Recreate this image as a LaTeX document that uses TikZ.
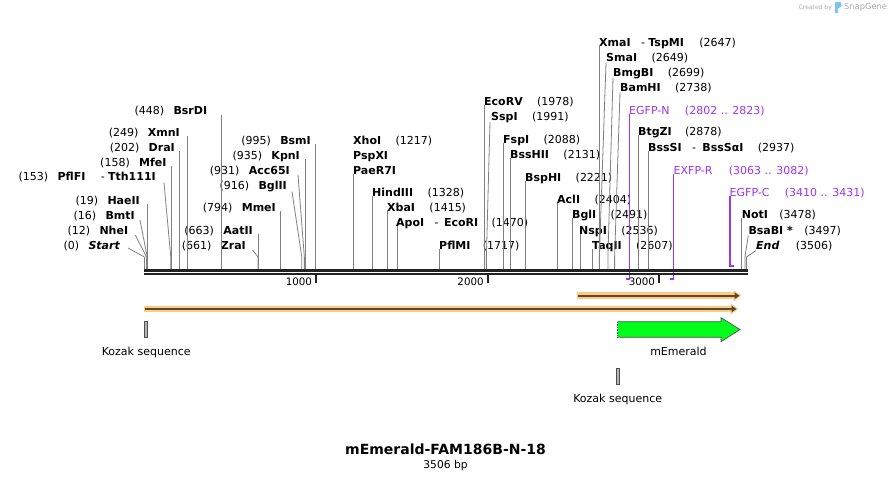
\documentclass[tikz,border=0pt]{standalone}
\usepackage{fontspec}
\setmainfont{DejaVu Sans}
\usetikzlibrary{arrows.meta,positioning}
\definecolor{cutgray}{RGB}{128,128,128}
\definecolor{primer}{RGB}{158,52,240}
\definecolor{barblack}{RGB}{34,34,34}
\definecolor{orfhalo}{RGB}{255,202,130}
\definecolor{orfline}{RGB}{88,72,52}
\definecolor{emerald}{RGB}{0,255,26}
\definecolor{featedge}{RGB}{80,80,80}
\definecolor{kozak}{RGB}{180,180,180}
\definecolor{logogray}{RGB}{170,170,170}
\definecolor{logoblue}{RGB}{125,196,240}

\begin{document}
\begin{tikzpicture}[x=1pt,y=-1pt,
  enz/.style={inner sep=0pt,font=\fontsize{11}{13}\selectfont\bfseries},
  num/.style={inner sep=0pt,font=\fontsize{11}{13}\selectfont},
  prm/.style={num,text=primer},
  ticklbl/.style={inner sep=0pt,font=\fontsize{10.3}{12}\selectfont},
  cut/.style={draw=cutgray,line width=0.8pt},
  pcut/.style={draw=primer,line width=1.3pt},
  seq/.style={draw=barblack,line width=2.4pt},
  tick/.style={draw=barblack,line width=1.8pt},
  orfbg/.style={draw=orfhalo,line width=6.5pt,shorten >=-2pt,shorten <=-1pt,
    -{Triangle[length=8pt,width=11pt]}},
  orf/.style={draw=orfline,line width=2.2pt,-{Triangle[length=5pt,width=6.5pt]}},
  kbox/.style={draw=featedge,fill=kozak,line width=0.6pt,inner sep=0pt,
    minimum width=3pt,minimum height=15.5pt},
  title/.style={inner sep=0pt,font=\fontsize{14}{16}\selectfont\bfseries}
]
\fill[white] (0,0) rectangle (892,479);

\coordinate (s0) at (144.5,269.5);
\coordinate (s12) at (146.56,269.5);
\coordinate (s16) at (147.25,269.5);
\coordinate (s19) at (147.76,269.5);
\coordinate (s153) at (170.77,269.5);
\coordinate (s158) at (171.63,269.5);
\coordinate (s202) at (179.18,269.5);
\coordinate (s249) at (187.25,269.5);
\coordinate (s448) at (221.42,269.5);
\coordinate (s661) at (257.99,269.5);
\coordinate (s663) at (258.34,269.5);
\coordinate (s794) at (280.83,269.5);
\coordinate (s916) at (301.78,269.5);
\coordinate (s931) at (304.35,269.5);
\coordinate (s935) at (305.04,269.5);
\coordinate (s995) at (315.34,269.5);
\coordinate (s1217) at (353.46,269.5);
\coordinate (s1328) at (372.52,269.5);
\coordinate (s1415) at (387.46,269.5);
\coordinate (s1470) at (396.90,269.5);
\coordinate (s1717) at (439.31,269.5);
\coordinate (s1978) at (484.12,269.5);
\coordinate (s1991) at (486.36,269.5);
\coordinate (s2088) at (503.01,269.5);
\coordinate (s2131) at (510.39,269.5);
\coordinate (s2221) at (525.85,269.5);
\coordinate (s2404) at (557.27,269.5);
\coordinate (s2491) at (572.20,269.5);
\coordinate (s2536) at (579.93,269.5);
\coordinate (s2607) at (592.12,269.5);
\coordinate (s2647) at (598.99,269.5);
\coordinate (s2649) at (599.33,269.5);
\coordinate (s2699) at (607.92,269.5);
\coordinate (s2738) at (614.61,269.5);
\coordinate (s2878) at (638.66,269.5);
\coordinate (s2937) at (648.79,269.5);
\coordinate (s3478) at (741.67,269.5);
\coordinate (s3497) at (744.94,269.5);
\coordinate (s3506) at (746.48,269.5);

\node[enz,anchor=base east] (bsrdi) at (207.3,114.5) {BsrDI};
\node[num,left=9pt of bsrdi.base west,anchor=base east] {(448)};
\node[enz,anchor=base east] (xmni) at (180,136) {XmnI};
\node[num,left=9pt of xmni.base west,anchor=base east] {(249)};
\node[enz,anchor=base east] (drai) at (175,151) {DraI};
\node[num,left=9pt of drai.base west,anchor=base east] {(202)};
\node[enz,anchor=base east] (mfei) at (166.7,166) {MfeI};
\node[num,left=9pt of mfei.base west,anchor=base east] {(158)};
\node[enz,anchor=base east] (tth) at (156,180.5) {Tth111I};
\node[num,left=3pt of tth.base west,anchor=base east] (tthdash) {-};
\node[enz,left=15pt of tthdash.base west,anchor=base east] (pflfi) {PflFI};
\node[num,left=9pt of pflfi.base west,anchor=base east] {(153)};
\node[enz,anchor=base east] (haeii) at (140,204) {HaeII};
\node[num,left=9pt of haeii.base west,anchor=base east] {(19)};
\node[enz,anchor=base east] (bmti) at (135,219) {BmtI};
\node[num,left=9pt of bmti.base west,anchor=base east] {(16)};
\node[enz,anchor=base east] (nhei) at (128.3,234) {NheI};
\node[num,left=9pt of nhei.base west,anchor=base east] {(12)};
\node[enz,anchor=base east] (start) at (120,249) {\itshape Start};
\node[num,left=9pt of start.base west,anchor=base east] {(0)};

\node[enz,anchor=base east] (bsmi) at (311,144) {BsmI};
\node[num,left=9pt of bsmi.base west,anchor=base east] {(995)};
\node[enz,anchor=base east] (kpni) at (300,159) {KpnI};
\node[num,left=9pt of kpni.base west,anchor=base east] {(935)};
\node[enz,anchor=base east] (acc) at (290,174) {Acc65I};
\node[num,left=9pt of acc.base west,anchor=base east] {(931)};
\node[enz,anchor=base east] (bglii) at (287,189) {BglII};
\node[num,left=9pt of bglii.base west,anchor=base east] {(916)};
\node[enz,anchor=base east] (mmei) at (276,211) {MmeI};
\node[num,left=9pt of mmei.base west,anchor=base east] {(794)};
\node[enz,anchor=base east] (aatii) at (253,234) {AatII};
\node[num,left=9pt of aatii.base west,anchor=base east] {(663)};
\node[enz,anchor=base east] (zrai) at (246,249) {ZraI};
\node[num,left=9pt of zrai.base west,anchor=base east] {(661)};

\node[enz,anchor=base west] (xhoi) at (353,144) {XhoI};
\node[num,right=14pt of xhoi.base east,anchor=base west] {(1217)};
\node[enz,anchor=base west] (pspxi) at (353,159) {PspXI};
\node[enz,anchor=base west] (paer) at (353,174) {PaeR7I};
\node[enz,anchor=base west] (hind) at (372,196) {HindIII};
\node[num,right=14pt of hind.base east,anchor=base west] {(1328)};
\node[enz,anchor=base west] (xbai) at (387,211) {XbaI};
\node[num,right=14pt of xbai.base east,anchor=base west] {(1415)};
\node[enz,anchor=base west] (apoi) at (396,226) {ApoI};
\node[num,right=10pt of apoi.base east,anchor=base west] (apodash) {-};
\node[enz,right=5pt of apodash.base east,anchor=base west] (ecori) {EcoRI};
\node[num,right=13pt of ecori.base east,anchor=base west] {(1470)};
\node[enz,anchor=base west] (pflmi) at (439,249) {PflMI};
\node[num,right=12pt of pflmi.base east,anchor=base west] {(1717)};

\node[enz,anchor=base west] (ecorv) at (484,105) {EcoRV};
\node[num,right=14pt of ecorv.base east,anchor=base west] {(1978)};
\node[enz,anchor=base west] (sspi) at (491,120) {SspI};
\node[num,right=14pt of sspi.base east,anchor=base west] {(1991)};
\node[enz,anchor=base west] (fspi) at (503,143) {FspI};
\node[num,right=14pt of fspi.base east,anchor=base west] {(2088)};
\node[enz,anchor=base west] (bsshii) at (510,158) {BssHII};
\node[num,right=14pt of bsshii.base east,anchor=base west] {(2131)};
\node[enz,anchor=base west] (bsphi) at (525,181) {BspHI};
\node[num,right=14pt of bsphi.base east,anchor=base west] {(2221)};
\node[enz,anchor=base west] (acli) at (557,203) {AclI};
\node[num,right=14pt of acli.base east,anchor=base west] {(2404)};
\node[enz,anchor=base west] (bgli) at (572,218) {BglI};
\node[num,right=14pt of bgli.base east,anchor=base west] {(2491)};
\node[enz,anchor=base west] (nspi) at (579,234) {NspI};
\node[num,right=14pt of nspi.base east,anchor=base west] {(2536)};
\node[enz,anchor=base west] (taqii) at (592,249) {TaqII};
\node[num,right=14pt of taqii.base east,anchor=base west] {(2607)};
\node[enz,anchor=base west] (xmai) at (599,46) {XmaI};
\node[num,right=10pt of xmai.base east,anchor=base west] (xmadash) {-};
\node[enz,right=3pt of xmadash.base east,anchor=base west] (tspmi) {TspMI};
\node[num,right=15pt of tspmi.base east,anchor=base west] {(2647)};
\node[enz,anchor=base west] (smai) at (606,61) {SmaI};
\node[num,right=14pt of smai.base east,anchor=base west] {(2649)};
\node[enz,anchor=base west] (bmgbi) at (613,76) {BmgBI};
\node[num,right=14pt of bmgbi.base east,anchor=base west] {(2699)};
\node[enz,anchor=base west] (bamhi) at (620,91) {BamHI};
\node[num,right=14pt of bamhi.base east,anchor=base west] {(2738)};
\node[prm,anchor=base west] (egfpn) at (629,114) {EGFP-N};
\node[prm,right=15pt of egfpn.base east,anchor=base west] {(2802 .. 2823)};
\node[enz,anchor=base west] (btgzi) at (638,135) {BtgZI};
\node[num,right=13pt of btgzi.base east,anchor=base west] {(2878)};
\node[enz,anchor=base west] (bsssi) at (648,151) {BssSI};
\node[num,right=10pt of bsssi.base east,anchor=base west] (bssdash) {-};
\node[enz,right=6pt of bssdash.base east,anchor=base west] (bsssai) {BssSαI};
\node[num,right=14pt of bsssai.base east,anchor=base west] {(2937)};
\node[prm,anchor=base west] (exfpr) at (673.5,174) {EXFP-R};
\node[prm,right=16pt of exfpr.base east,anchor=base west] {(3063 .. 3082)};
\node[prm,anchor=base west] (egfpc) at (729.5,196) {EGFP-C};
\node[prm,right=15pt of egfpc.base east,anchor=base west] {(3410 .. 3431)};
\node[enz,anchor=base west] (noti) at (741.7,218) {NotI};
\node[num,right=11pt of noti.base east,anchor=base west] {(3478)};
\node[enz,anchor=base west] (bsabi) at (748.3,234) {BsaBI *};
\node[num,right=11pt of bsabi.base east,anchor=base west] {(3497)};
\node[enz,anchor=base west] (endl) at (756,249) {\itshape End};
\node[num,right=16pt of endl.base east,anchor=base west] {(3506)};

\coordinate (p2802) at (625.6,279);
\coordinate (p2823) at (629.21,279);
\coordinate (p3063) at (670.43,279);
\coordinate (p3082) at (673.69,279);
\coordinate (p3410) at (730,266);
\coordinate (p3431) at (733.6,266);
\draw[pcut] (p2823 |- egfpn.base) -- (p2823) -- (p2802);
\draw[pcut] (p3082 |- exfpr.base) -- (p3082) -- (p3063);
\draw[pcut] (p3410 |- egfpc.base) -- (p3410) -- (p3431);

\draw[cut] (s448 |- bsrdi.base) -- (s448);
\draw[cut] (s249 |- xmni.base) -- (s249);
\draw[cut] (s202 |- drai.base) -- (s202);
\draw[cut] (s158 |- mfei.base) -- (s158);
\draw[cut] ([shift={(8pt,-2pt)}]tth.base east) -- ([yshift=12.5pt]s153) -- (s153);
\draw[cut] (s19 |- haeii.base) -- (s19);
\draw[cut] ([shift={(5pt,-1pt)}]bmti.base east) -- ([yshift=12.5pt]s16) -- (s16);
\draw[cut] ([shift={(7pt,-1pt)}]nhei.base east) -- ([yshift=12.5pt]s12) -- (s12);
\draw[cut] ([shift={(8pt,1pt)}]start.base east) -- ([yshift=12.5pt]s0) -- (s0);
\draw[cut] (s995 |- bsmi.base) -- (s995);
\draw[cut] (s935 |- kpni.base) -- (s935);
\draw[cut] ([shift={(8pt,-1pt)}]acc.base east) -- ([yshift=12.5pt]s931) -- (s931);
\draw[cut] ([shift={(5pt,-2.5pt)}]bglii.base east) -- ([yshift=12.5pt]s916) -- (s916);
\draw[cut] (s794 |- mmei.base) -- (s794);
\draw[cut] (s663 |- aatii.base) -- (s663);
\draw[cut] ([shift={(6.5pt,-1pt)}]zrai.base east) -- ([yshift=12.5pt]s661) -- (s661);
\draw[cut] (s1217 |- paer.base) -- (s1217);
\draw[cut] (s1328 |- hind.base) -- (s1328);
\draw[cut] (s1415 |- xbai.base) -- (s1415);
\draw[cut] (s1470 |- apoi.base) -- (s1470);
\draw[cut] (s1717 |- pflmi.base) -- (s1717);
\draw[cut] (s1978 |- ecorv.base) -- (s1978);
\draw[cut] ([shift={(-1pt,-2pt)}]sspi.base west) -- ([yshift=12.5pt]s1991) -- (s1991);
\draw[cut] (s2088 |- fspi.base) -- (s2088);
\draw[cut] (s2131 |- bsshii.base) -- (s2131);
\draw[cut] (s2221 |- bsphi.base) -- (s2221);
\draw[cut] (s2404 |- acli.base) -- (s2404);
\draw[cut] (s2491 |- bgli.base) -- (s2491);
\draw[cut] (s2536 |- nspi.base) -- (s2536);
\draw[cut] (s2607 |- taqii.base) -- (s2607);
\draw[cut] (s2647 |- xmai.base) -- (s2647);
\draw[cut] ([yshift=-1.5pt]smai.base west) -- ([yshift=12.5pt]s2649) -- (s2649);
\draw[cut] ([yshift=-1.5pt]bmgbi.base west) -- ([yshift=12.5pt]s2699) -- (s2699);
\draw[cut] ([yshift=-1.5pt]bamhi.base west) -- ([yshift=12.5pt]s2738) -- (s2738);
\draw[cut] (s2878 |- btgzi.base) -- (s2878);
\draw[cut] (s2937 |- bsssi.base) -- (s2937);
\draw[cut] (s3478 |- noti.base) -- (s3478);
\draw[cut] ([yshift=-1.5pt]bsabi.base west) -- ([yshift=12.5pt]s3497) -- (s3497);
\draw[cut] ([yshift=-1.5pt]endl.base west) -- ([yshift=12.5pt]s3506) -- (s3506);

\coordinate (bar0) at (144,270.5);
\coordinate (bar1) at (748,270.5);
\draw[seq] (bar0) -- (bar1);
\draw[seq] ([yshift=-3.7pt]bar0) -- ([yshift=-3.7pt]bar1);

\coordinate (k1000) at (316.2,275);
\coordinate (k2000) at (487.9,275);
\coordinate (k3000) at (659.2,275);
\draw[tick] (k1000) -- ([yshift=-7.5pt]k1000);
\draw[tick] (k2000) -- ([yshift=-7.5pt]k2000);
\draw[tick] (k3000) -- ([yshift=-7.5pt]k3000);
\node[ticklbl,anchor=base east] at ([shift={(-4pt,-10.5pt)}]k1000) {1000};
\node[ticklbl,anchor=base east] at ([shift={(-4pt,-10.5pt)}]k2000) {2000};
\node[ticklbl,anchor=base east] at ([shift={(-4pt,-10.5pt)}]k3000) {3000};

\coordinate (orfa1) at (578,295.7);
\coordinate (orfa2) at (739.5,295.7);
\coordinate (orfb1) at (144.5,309);
\coordinate (orfb2) at (736.5,309);
\draw[orfbg] (orfa1) -- (orfa2);
\draw[orf] (orfa1) -- (orfa2);
\draw[orfbg] (orfb1) -- (orfb2);
\draw[orf] (orfb1) -- (orfb2);

\node[kbox] (koz1) at (146.2,329.2) {};
\node[num,below=9.5pt of koz1] {Kozak sequence};
\node[kbox] (koz2) at (617.7,376.3) {};
\node[num,below=9.5pt of koz2] {Kozak sequence};

\fill[emerald] (617.7,321.7) -- (721,321.7) -- (721,317.7) -- (740,329.5)
  -- (721,341.7) -- (721,337.3) -- (617.7,337.3) -- cycle;
\draw[featedge,line width=0.7pt,line join=miter] (617.7,321.7) -- (721,321.7) -- (721,317.7)
  -- (740,329.5) -- (721,341.7) -- (721,337.3) -- (617.7,337.3);
\draw[featedge,line width=0.8pt,dash pattern=on 0.8pt off 0.8pt] (617.7,337.3) -- (617.7,321.7);
\node[num] (gfplbl) at (678.5,351) {mEmerald};

\node[title] (name) at (445.5,449) {mEmerald-FAM186B-N-18};
\node[inner sep=0pt,font=\fontsize{10.7}{12}\selectfont,below=5.5pt of name] (size) {3506 bp};

\node[inner sep=0pt,font=\fontsize{6}{7}\selectfont,text=logogray,anchor=east] (cby) at (832,7.5) {Created by};
\fill[logoblue] (835.3,2) rectangle (837.6,13.3);
\fill[logoblue] (837.6,2) -- (839.8,2) .. controls (842.2,2) and (842.2,7.6) .. (839.8,7.6) -- (837.6,8.6) -- cycle;
\node[inner sep=0pt,font=\fontsize{8.3}{9}\selectfont,text=logogray,anchor=west] (sg) at (844,7.5) {SnapGene};
\end{tikzpicture}
\end{document}
